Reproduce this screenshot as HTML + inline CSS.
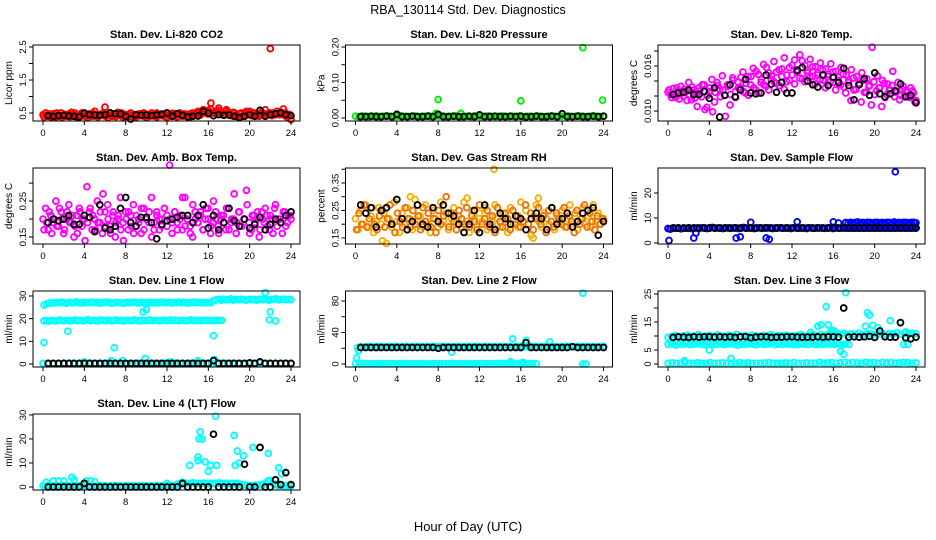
<!DOCTYPE html>
<html><head><meta charset="utf-8">
<style>
html,body{margin:0;padding:0;background:#fff;}
svg{display:block;font-family:"Liberation Sans",Arial,sans-serif;}
</style></head>
<body>
<svg id="chart" width="936" height="540" viewBox="0 0 936 540" xmlns="http://www.w3.org/2000/svg">
<text x="468" y="14" text-anchor="middle" font-size="12.5">RBA_130114  Std. Dev. Diagnostics</text>
<text x="468" y="531" text-anchor="middle" font-size="13">Hour of Day (UTC)</text>
</svg>
<script>
// ---------- data ----------
const xTicks=[0,4,8,12,16,20,24];
const panelTitles=["Stan. Dev. Li-820 CO2","Stan. Dev. Li-820 Pressure","Stan. Dev. Li-820 Temp.","Stan. Dev. Amb. Box Temp.","Stan. Dev. Gas Stream RH","Stan. Dev. Sample Flow","Stan. Dev. Line 1 Flow","Stan. Dev. Line 2 Flow","Stan. Dev. Line 3 Flow","Stan. Dev. Line 4 (LT) Flow"];
const yLabels=["Licor ppm","kPa","degrees C","degrees C","percent","ml/min","ml/min","ml/min","ml/min","ml/min"];
const yDomains=[[0.258,2.56],[-0.0085,0.2056],[0.00867,0.0188],[0.1306,0.342],[0.128,0.4045],[-0.4,30],[-1.3,32.2],[-3.8,92.7],[-1.07,26.07],[-1.25,30.4]];
const yTickVals=[[0.5,1,1.5,2,2.5],[0,0.05,0.1,0.15,0.2],[0.01,0.012,0.014,0.016,0.018],[0.15,0.2,0.25,0.3],[0.15,0.2,0.25,0.3,0.35,0.4],[0,10,20],[0,10,20,30],[0,20,40,60,80],[0,5,10,15,20,25],[0,10,20,30]];
const yTickText=[["0.5","","1.5","","2.5"],["0.00","","0.10","","0.20"],["0.010","","","0.016",""],["0.15","","0.25",""],["0.15","","0.25","","0.35",""],["0","10","20"],["0","10","20","30"],["0","","40","","80"],["0","5","","15","","25"],["0","10","20","30"]];

// CO2
const co2RedA=[0.45,0.5,0.4,0.42,0.48,0.38,0.45,0.5,0.42,0.4,0.47,0.52,0.4,0.44,0.38,0.5,0.46,0.42,0.48,0.4,0.55,0.45,0.42,0.47,0.68,0.44,0.5,0.4,0.46,0.52,0.42,0.48,0.45,0.4,0.5,0.38,0.44,0.47,0.42,0.5,0.45,0.4,0.48,0.43,0.5,0.46,0.42,0.47,0.5,0.44,0.4,0.48,0.45,0.5,0.42,0.46,0.4,0.48,0.44,0.5,0.55,0.48,0.6,0.52,0.58,0.8,0.5,0.55,0.65,0.5,0.48,0.6,0.52,0.45,0.5,0.42,0.48,0.4,0.5,0.45,0.55,0.5,0.42,0.48,0.45,0.5,0.6,0.48,2.45,0.5,0.45,0.48,0.52,0.62,0.5,0.45,0.3];
const co2RedB=[0.38,0.42,0.47,0.36,0.44,0.5,0.4,0.37,0.46,0.43,0.39,0.45,0.5,0.37,0.42,0.46,0.4,0.36,0.44,0.49,0.41,0.38,0.45,0.5,0.4,0.36,0.43,0.47,0.39,0.44,0.5,0.37,0.42,0.46,0.4,0.45,0.38,0.43,0.48,0.4,0.36,0.45,0.5,0.41,0.38,0.44,0.47,0.4,0.37,0.43,0.49,0.42,0.38,0.45,0.4,0.47,0.43,0.38,0.5,0.45,0.52,0.44,0.5,0.56,0.47,0.62,0.52,0.48,0.58,0.5,0.46,0.55,0.48,0.42,0.52,0.45,0.4,0.5,0.44,0.55,0.47,0.42,0.5,0.45,0.4,0.52,0.47,0.44,0.5,0.42,0.48,0.55,0.45,0.5,0.42,0.38,0.45];
const co2Black=[0.42,0.4,0.42,0.43,0.41,0.4,0.38,0.5,0.45,0.44,0.43,0.45,0.5,0.48,0.47,0.4,0.32,0.45,0.43,0.44,0.42,0.44,0.46,0.5,0.4,0.48,0.43,0.38,0.4,0.41,0.55,0.5,0.42,0.45,0.43,0.44,0.4,0.36,0.4,0.45,0.4,0.58,0.4,0.45,0.48,0.5,0.45,0.42];
// Pressure
const presGreen=[0.005,0.004,0.006,0.005,0.003,0.005,0.006,0.004,0.005,0.006,0.005,0.004,0.005,0.006,0.005,0.004,0.005,0.006,0.004,0.005,0.005,0.006,0.004,0.005,0.005,0.006,0.004,0.005,0.005,0.006,0.004,0.005,0.005,0.004,0.006,0.005,0.004,0.005,0.006,0.005,0.004,0.005,0.006,0.005,0.004,0.005,0.005,0.006,0.004,0.005,0.005,0.004,0.006,0.005,0.004,0.005,0.006,0.005,0.004,0.005,0.005,0.006,0.004,0.005,0.006,0.005,0.004,0.005,0.006,0.005,0.004,0.005];
const presGreenOutX=[8,16,22,23.9,7.8,10.2];
const presGreenOutY=[0.052,0.048,0.198,0.05,0.013,0.013];
const presBlack=[0.004,0.004,0.005,0.004,0.004,0.005,0.004,0.01,0.004,0.004,0.005,0.004,0.004,0.005,0.004,0.01,0.004,0.004,0.005,0.004,0.004,0.005,0.004,0.009,0.004,0.004,0.005,0.004,0.004,0.005,0.004,0.005,0.003,0.004,0.005,0.004,0.004,0.005,0.004,0.012,0.004,0.004,0.005,0.004,0.004,0.005,0.004,0.005];
// Li-820 Temp
const tempMagA=[0.0125,0.0122,0.013,0.0118,0.0127,0.0133,0.012,0.0126,0.0138,0.0115,0.0128,0.0124,0.0131,0.0119,0.0135,0.0105,0.0126,0.0142,0.0112,0.0138,0.0129,0.0147,0.0121,0.0135,0.0108,0.0144,0.0126,0.0139,0.0131,0.0152,0.0124,0.0146,0.0135,0.0157,0.0128,0.0149,0.0138,0.0162,0.0133,0.0151,0.0142,0.0166,0.0137,0.0155,0.0146,0.0171,0.0139,0.0158,0.0148,0.0168,0.0152,0.0175,0.0143,0.0161,0.0154,0.0169,0.0146,0.0159,0.0151,0.0164,0.0141,0.0156,0.0149,0.0163,0.0138,0.0153,0.0145,0.0158,0.0132,0.0148,0.0141,0.0155,0.0128,0.0146,0.0137,0.0151,0.0125,0.0143,0.0134,0.0185,0.0122,0.0147,0.0131,0.0141,0.0118,0.0136,0.0128,0.0153,0.0125,0.0138,0.0121,0.0133,0.0127,0.0119,0.0131,0.0124,0.0114];
const tempMagB=[0.0128,0.0118,0.0123,0.0131,0.0116,0.0124,0.0129,0.0114,0.0122,0.0132,0.0117,0.0106,0.0127,0.0135,0.0102,0.0121,0.0131,0.0099,0.0125,0.0134,0.0119,0.0128,0.0093,0.0133,0.0122,0.0141,0.0118,0.0131,0.0145,0.0126,0.0137,0.0121,0.0146,0.0131,0.0153,0.0124,0.0142,0.0135,0.0158,0.0128,0.0147,0.0139,0.0152,0.0134,0.0156,0.0129,0.0148,0.0141,0.0161,0.0136,0.0155,0.0144,0.0167,0.0139,0.0151,0.0145,0.0159,0.0136,0.0148,0.0142,0.0155,0.0131,0.0146,0.0139,0.0152,0.0128,0.0141,0.0135,0.0149,0.0124,0.0138,0.0114,0.0144,0.0129,0.0136,0.0112,0.0141,0.0125,0.0133,0.0108,0.0139,0.0127,0.0131,0.0106,0.0137,0.0122,0.0128,0.0134,0.0119,0.0126,0.0115,0.0129,0.0121,0.0125,0.0118,0.0127,0.0112];
const tempBlack=[0.0122,0.0124,0.0125,0.0128,0.0122,0.0122,0.0126,0.0117,0.0131,0.0092,0.0121,0.0135,0.0119,0.0128,0.0142,0.0124,0.0123,0.0124,0.0148,0.0136,0.0125,0.0138,0.0124,0.0124,0.0154,0.0158,0.014,0.0135,0.0132,0.0148,0.0134,0.0145,0.0138,0.0157,0.0134,0.0115,0.0135,0.0143,0.0121,0.0151,0.0123,0.0119,0.0123,0.0127,0.0136,0.0119,0.0121,0.0111];
// Amb box temp
const ambMagA=[0.2,0.23,0.17,0.21,0.19,0.25,0.18,0.22,0.16,0.2,0.24,0.19,0.15,0.21,0.23,0.18,0.2,0.29,0.22,0.17,0.2,0.25,0.19,0.16,0.22,0.24,0.18,0.21,0.15,0.2,0.26,0.19,0.22,0.17,0.21,0.24,0.18,0.2,0.16,0.23,0.2,0.19,0.26,0.17,0.22,0.2,0.18,0.23,0.21,0.35,0.19,0.22,0.17,0.2,0.26,0.18,0.21,0.16,0.24,0.2,0.19,0.22,0.17,0.23,0.2,0.18,0.25,0.2,0.16,0.21,0.19,0.23,0.17,0.2,0.27,0.19,0.22,0.18,0.2,0.24,0.16,0.21,0.19,0.22,0.17,0.2,0.23,0.18,0.21,0.16,0.24,0.2,0.19,0.22,0.18,0.21,0.2];
const ambMagB=[0.17,0.19,0.22,0.16,0.2,0.18,0.23,0.2,0.17,0.22,0.19,0.21,0.18,0.16,0.22,0.2,0.14,0.19,0.23,0.21,0.17,0.19,0.22,0.27,0.18,0.2,0.16,0.22,0.19,0.21,0.17,0.14,0.2,0.22,0.18,0.16,0.21,0.19,0.23,0.17,0.2,0.22,0.15,0.19,0.21,0.17,0.2,0.23,0.18,0.2,0.16,0.22,0.19,0.21,0.17,0.26,0.2,0.18,0.15,0.22,0.19,0.21,0.17,0.2,0.23,0.16,0.19,0.22,0.18,0.2,0.21,0.17,0.23,0.19,0.2,0.16,0.22,0.18,0.2,0.28,0.19,0.17,0.21,0.2,0.15,0.22,0.19,0.21,0.17,0.2,0.23,0.18,0.2,0.16,0.22,0.19,0.21];
const ambBlack=[0.19,0.2,0.195,0.2,0.21,0.185,0.185,0.21,0.205,0.165,0.24,0.175,0.17,0.18,0.23,0.26,0.19,0.18,0.205,0.205,0.19,0.145,0.185,0.195,0.2,0.205,0.21,0.21,0.19,0.21,0.24,0.175,0.21,0.17,0.19,0.23,0.195,0.18,0.2,0.175,0.185,0.205,0.17,0.185,0.2,0.19,0.21,0.22];
// Gas stream RH
const rhOrgA=[0.22,0.18,0.25,0.2,0.27,0.19,0.23,0.17,0.21,0.26,0.2,0.24,0.13,0.22,0.19,0.28,0.21,0.17,0.24,0.2,0.26,0.22,0.18,0.29,0.21,0.23,0.19,0.27,0.2,0.17,0.25,0.22,0.19,0.28,0.21,0.24,0.18,0.22,0.26,0.2,0.23,0.19,0.28,0.21,0.17,0.25,0.22,0.19,0.24,0.21,0.26,0.18,0.23,0.2,0.27,0.22,0.19,0.24,0.21,0.17,0.26,0.2,0.23,0.19,0.28,0.21,0.25,0.2,0.16,0.23,0.27,0.21,0.19,0.24,0.22,0.2,0.26,0.18,0.23,0.21,0.25,0.19,0.22,0.27,0.2,0.24,0.18,0.22,0.26,0.2,0.23,0.19,0.27,0.21,0.24,0.2,0.22];
const rhOrgB=[0.18,0.24,0.2,0.27,0.19,0.22,0.26,0.2,0.18,0.23,0.25,0.19,0.22,0.27,0.2,0.17,0.24,0.21,0.19,0.26,0.22,0.19,0.25,0.2,0.23,0.18,0.26,0.21,0.24,0.19,0.22,0.17,0.25,0.2,0.23,0.3,0.19,0.24,0.21,0.18,0.25,0.22,0.2,0.26,0.19,0.23,0.21,0.18,0.27,0.2,0.22,0.25,0.19,0.23,0.17,0.26,0.21,0.19,0.24,0.22,0.18,0.25,0.2,0.23,0.19,0.21,0.27,0.2,0.24,0.18,0.22,0.26,0.2,0.23,0.17,0.25,0.21,0.19,0.24,0.22,0.2,0.26,0.19,0.23,0.21,0.17,0.25,0.2,0.22,0.27,0.19,0.24,0.21,0.18,0.23,0.2,0.22];
const rhOrgOutX=[13.4,2.6,17.2,17.7,5.3,10.8];
const rhOrgOutY=[0.4,0.14,0.15,0.295,0.3,0.295];
const rhBlack=[0.27,0.24,0.26,0.19,0.25,0.26,0.2,0.29,0.22,0.18,0.21,0.27,0.2,0.19,0.26,0.21,0.27,0.24,0.23,0.2,0.17,0.2,0.25,0.17,0.27,0.2,0.18,0.24,0.22,0.2,0.23,0.22,0.18,0.22,0.24,0.22,0.18,0.26,0.2,0.22,0.24,0.19,0.21,0.24,0.25,0.26,0.16,0.21];
// Sample flow
const sfBlueA=[5.8,5.6,6,5.9,6,5.7,6,5.9,6.1,5.8,6,6,5.9,6.1,6,5.8,6,6.2,5.9,6,6,5.8,6.1,6,5.9,6,6.1,5.8,6,6.2,5.9,6,6,5.8,6,6.1,5.9,6,6.1,6,5.8,6,6,6.1,5.9,6,6,5.8,6.1,6,5.9,6,6,5.8,6.1,6,5.9,6.1,6,6,5.9,6,6.1,5.8,6,6,5.9,6.1,6];
const sfBlueB=[8.2,8,8.3,8.1,8.2,8.4,8,8.2,8.1,8.3,8.2,8,8.2,8.3,8.1,8.2,8,8.3,8.2,8.1,8.4,8,8.2,8.1,8.3,8.2,8,8.2,8.3,8.1];
const sfBlueOutX=[0.1,2.5,2.7,6.6,7,9.5,9.8,8,12.5,16,16.5,22,23.9,0.2];
const sfBlueOutY=[1,2,4,2,2.5,2,1.5,8.3,8.5,8.5,8,28.5,8,5.6];
const sfBlack=[6,6,6,6,6,6,6,6,6,6,6,6,6,6,6,6,6,6,6,6,6,6,6,6,6,6,6,6,6,6,6,6,6,6,6,6,6,6,6,6,6,6,6,6,6,6,6,6];
// Line 1
const l1Top=[26,26.5,26.8,27,26.9,27.1,27,27.3,27,26.8,27.2,27,27.1,27.4,27,26.9,27.2,27,27.1,27.3,27,27.2,26.9,27.1,27,27.3,27.1,26.9,27,27.2,27.1,27,26.8,27.2,27,27.1,27.3,27,26.9,27.2,27,27.1,27,27.2,26.9,27.1,27,27.3,27.1,27,27.2,26.9,27,27.1,27.3,27,27.2,27,26.9,27.1,27.3,27,27.2,27,27.1,27,27.2,27,28,28.3,28.5,28.2,28.6,28.3,28.4,28.7,28.2,28.5,28.3,28.6,28.4,28.2,28.5,28.3,28.6,28.2,28.4,28.5,28.3,28.6,28.2,28.4,28.5,28.7,28.3,28.5,28.6,28.4,28.5,28.3];
const l1Mid=[19,19.2,18.9,19.3,19.1,19,19.4,19.2,19.1,19.3,19,19.2,19.4,19.1,19.3,19,19.2,19.5,19.1,19.3,19.2,19,19.4,19.2,19.1,19.3,19,19.2,19.4,19.1,19.2,19,19.3,19.2,19.1,19.4,19.2,19,19.3,19.1,19.2,19.4,19.1,19.3,19.2,19,19.3,19.2,19.1,19.4,19.2,19.3,19.1,19.2,19.3,19.1,19.2,19.4,19.2,19.3,19.2,19.1,19.3,19.2,19.3,19.2,19.1,19.3,19.2,19.3];
const l1Zero=[0.3,0.3,0.2,0.3,0.4,0.3,0.2,0.3,0.3,0.4,0.3,0.2,0.3,0.3,0.4,0.3,0.2,0.3,0.3,0.3,0.4,0.3,0.2,0.3,0.3,0.4,0.3,0.2,0.3,0.3,0.4,0.3,0.3,0.2,0.3,0.3,0.4,0.3,0.2,0.3,0.3,0.4,0.3,0.2,0.3,0.3,0.4,0.3];
const l1OutX=[0.1,2.4,6.9,9.7,10,16.5,22,22.5,21.9,21.5,6.6,7.7,9.9,16.6,15,12.3,4];
const l1OutY=[9.5,14.5,7.2,23,24,12.5,23,19,19.5,31.5,1.5,1.5,2.5,2,1.5,1,1];
const l1Black=[0.3,0.3,0.3,0.3,0.3,0.3,0.3,0.3,0.3,0.3,0.3,0.3,0.3,0.3,0.3,0.3,0.3,0.3,0.3,0.3,0.3,0.3,0.3,0.3,0.3,0.3,0.3,0.3,0.3,0.3,0.3,0.3,1.5,0.3,0.3,0.3,0.3,0.3,0.3,0.5,0.3,1,0.3,0.3,0.3,0.3,0.3,0.3];
// Line 2
const l2Top=[21,22,21.5,22.3,22,21.8,22.4,22,21.7,22.2,22,22.5,21.8,22,22.3,21.9,22,22.4,22.1,21.8,22.2,22,22.5,21.9,22,22.3,22.1,21.8,22,22.4,22,21.9,22.2,22,22.5,21.8,22.1,22.3,22,21.9,22.2,22,22.4,22.1,21.8,22.2,22,22.3,22,21.9,22.1,22.4,22,21.8,22.2,22,22.3,22.1,21.9,22,22.2,22.4,22,21.8,22.2,22.1,22.3,22,21.9,22.2,22,22.3];
const l2Zero=[0.5,0.3,0.6,0.4,0.5,0.3,0.6,0.5,0.4,0.6,0.3,0.5,0.4,0.6,0.5,0.3,0.5,0.4,0.6,0.5,0.3,0.5,0.6,0.4,0.5,0.3,0.6,0.5,0.4,0.5,0.6,0.3,0.5,0.4,0.6,0.5,0.4,0.5,0.3,0.6,0.5,0.4,0.5,0.6,0.3,0.5,0.4,0.6,0.5,0.3];
const l2OutX=[0.1,0.3,22,22,22.3,15.2,16.5,18.8,9.3,15,16.2];
const l2OutY=[8,17,90,0,0,32,30,28,15,3,2];
const l2Black=[21,21,21,21,21,21,21,21,21,21,21,21,21,21,21,20,21,21,21,21,21,21,21,21,21,21,21,21,21,21,21,21,27,21,21,21,21,21,21,21,21,22,21,21,21,21,21,21];
// Line 3
const l3Top=[9.5,9.8,10.2,9.7,10,10.3,9.8,10,10.5,9.7,10,10.2,9.9,10.4,10,9.8,10.2,10,10.6,9.9,10.1,9.8,10.3,10,9.9,10.2,10,10.5,9.8,10.1,10,10.3,9.9,10,10.2,10.5,9.9,10.1,10.4,10,10.6,10.2,10.5,10.8,10.4,10.7,11,10.5,10.8,10.6,11,10.4,10.7,10.9,10.5,10.8,11,10.6,10.9,10.7,11.2,10.6,10.9,10.7,11,10.8];
const l3Mid=[7,7.2,6.8,7.1,7,7.3,6.9,7.1,7.2,7,6.9,7.2,7.1,7,7.3,6.9,7.1,7.2,7,6.8,7.1,7,7.2,7.1,6.9,7.2,7,7.1,7.3,6.9,7.1,7,7.2,7.1,7,6.9,7.2,7.1,7,7.2,6.9,7.1,7,7.2,7.1,7,7.2,6.9,7.1,7];
const l3Zero=[0.3,0.4,0.2,0.3,0.5,0.3,0.2,0.4,0.3,0.3,0.5,0.2,0.3,0.4,0.3,0.2,0.3,0.5,0.3,0.4,0.2,0.3,0.3,0.4,0.5,0.3,0.2,0.3,0.4,0.3,0.5,0.2,0.3,0.4,0.3,0.3,0.6,0.3,0.4,0.5,0.3,0.4,0.6,0.3,0.5,0.4,0.3,0.6,0.4,0.5,0.3,0.6,0.4,0.5,0.3,0.4,0.6,0.5,0.3,0.4];
const l3OutX=[14.5,15.3,15.5,15.8,16.2,16.7,17,17.2,19.3,19.5,19.1,19.8,20.3,21.5,22.5,22.8,23.2,4,6.1,1.6,14.8,23,13.8,16];
const l3OutY=[13.5,20.5,14,12,11.5,4.5,3.5,25.5,18.3,17.5,13.5,13.8,13,15.5,14.8,7,7,5,2,1.2,14,11.5,11.3,12];
const l3Black=[9.5,9.7,9.6,9.5,9.7,9.6,9.7,9.7,9.6,9.7,9.6,9.7,9.5,9.7,9.8,9.4,9.6,9.7,9.7,9.5,9.6,9.6,9.7,9.7,9.6,9.6,9.6,9.6,9.7,9.6,9.7,9.7,9.6,20,9.6,9.7,9.6,9.7,9.9,9.5,11.8,9.7,9.6,9.6,14.8,9.4,9,9.6];
// Line 4
const l4Zero=[0.5,0.3,0.8,0.5,0.4,0.6,0.3,0.5,0.7,0.4,0.5,0.3,0.6,0.5,0.4,0.5,0.3,0.6,0.4,0.5,0.3,0.5,0.6,0.4,0.5,0.3,0.5,0.4,0.6,0.5,0.4,0.3,0.5,0.6,0.4,0.5,0.3,0.5,0.4,0.6,0.5,0.4,0.5,0.3,0.6,0.5,0.4,0.5,0.6,0.5,0.4,0.5,1.2,1.5,1.3,1.6,1.4,1.5,1.7,1.3,1.5,1.4,1.6,1.5,1.3,1.6,1.4,1.5,1.7,1.4,1.5,1.6,1.3,1.5,1.4,1.6,1.2,1,0.8,0.6,0.7,0.5,0.8,0.6,0.9,0.7,1.5,2.5,2.8,1.5,1,0.6,0.8,0.5,0.6,0.4,0.5];
const l4OutX=[0.3,1,1.5,2,2.8,3,4.2,4.6,5,14.2,15,15,15.2,15.1,15.4,15.7,16,16.2,16.7,16.8,18.5,18.6,18.8,19,19.4,20.3,21.8,22.8,23.1,12,13.5];
const l4OutY=[2,2.5,2.5,2.5,4,3,2.5,2.5,2.2,9,12.5,11,23,20,20,10.5,6.5,9,29.5,9,21.5,9,15,10,13,16.5,14,8,5.5,1.5,2];
const l4Black=[0,0,0,0,0,0,0,1.5,0,0,0,0,0,0,0,0,0,0,0,0,0,0,0,0,0,0,1.5,0,0,0,0,0,22,0,0,0,0,0,9.5,0,0,16.5,0,0,3,1,6,1];

const seriesByPanel=[
 [{c:"#ff0000",x0:0,x1:24,v:co2RedA},{c:"#ff0000",x0:0.1,x1:23.9,v:co2RedB},{c:"#000",x0:0.5,x1:24,v:co2Black}],
 [{c:"#00ee00",x0:0,x1:24,v:presGreen},{c:"#00ee00",xs:presGreenOutX,v:presGreenOutY},{c:"#000",x0:0.5,x1:24,v:presBlack}],
 [{c:"#ff00ff",x0:0,x1:24,v:tempMagA},{c:"#ff00ff",x0:0.1,x1:23.9,v:tempMagB},{c:"#000",x0:0.5,x1:24,v:tempBlack}],
 [{c:"#ff00ff",x0:0,x1:24,v:ambMagA},{c:"#ff00ff",x0:0.1,x1:23.9,v:ambMagB},{c:"#000",x0:0.5,x1:24,v:ambBlack}],
 [{c:"#f5b000",x0:0,x1:24,v:rhOrgA},{c:"#f07000",x0:0.1,x1:23.9,v:rhOrgB},{c:"#f5b000",xs:rhOrgOutX,v:rhOrgOutY},{c:"#000",x0:0.5,x1:24,v:rhBlack}],
 [{c:"#0000ff",x0:0,x1:17.2,v:sfBlueA},{c:"#0000ff",x0:17.2,x1:24,v:sfBlueB},{c:"#0000ff",x0:17.2,x1:24,v:sfBlack},{c:"#0000ff",xs:sfBlueOutX,v:sfBlueOutY},{c:"#000",x0:0.5,x1:24,v:sfBlack}],
 [{c:"#00ffff",x0:0.1,x1:24,v:l1Top},{c:"#00ffff",x0:0.1,x1:17.3,v:l1Mid},{c:"#00ffff",x0:0,x1:24,v:l1Zero},{c:"#00ffff",xs:l1OutX,v:l1OutY},{c:"#000",x0:0.5,x1:24,v:l1Black}],
 [{c:"#00ffff",x0:0.2,x1:24,v:l2Top},{c:"#00ffff",x0:0,x1:17.5,v:l2Zero},{c:"#00ffff",xs:l2OutX,v:l2OutY},{c:"#000",x0:0.5,x1:24,v:l2Black}],
 [{c:"#00ffff",x0:0,x1:24,v:l3Top},{c:"#00ffff",x0:0,x1:17.5,v:l3Mid},{c:"#00ffff",x0:0,x1:24,v:l3Zero},{c:"#00ffff",xs:l3OutX,v:l3OutY},{c:"#000",x0:0.5,x1:24,v:l3Black}],
 [{c:"#00ffff",x0:0,x1:24,v:l4Zero},{c:"#00ffff",xs:l4OutX,v:l4OutY},{c:"#000",x0:0.5,x1:24,v:l4Black}]
];

// ---------- drawing ----------
const NS="http://www.w3.org/2000/svg";
const svg=document.getElementById("chart");
function mk(tag,attrs,parent){const e=document.createElementNS(NS,tag);for(const k in attrs)e.setAttribute(k,attrs[k]);(parent||svg).appendChild(e);return e;}
const colX0=[43,355.5,668], rowTop=[45,168,291,414], BOXW=267, BOXH=76, PXH=248/24;

for(let p=0;p<10;p++){
  const col=p%3,row=Math.floor(p/3);
  const x0=colX0[col], top=rowTop[row], bot=top+BOXH, left=x0-10, right=left+BOXW;
  const [lo,hi]=yDomains[p];
  const xs=h=>x0+h*PXH;
  const ys=v=>bot-(v-lo)/(hi-lo)*BOXH;
  const g=mk("g",{});
  
  
  const t=mk("text",{x:(left+right)/2,y:top-7,"text-anchor":"middle","font-size":"11","font-weight":"bold"},g);
  t.textContent=panelTitles[p];
  
  
  const pts=mk("g",{fill:"none","stroke-width":"1.9"},g);
  
  
  for(const s of seriesByPanel[p]){
    const n=s.v.length;
    for(let i=0;i<n;i++){
      const h=s.xs?s.xs[i]:(n>1?s.x0+(s.x1-s.x0)*i/(n-1):s.x0);
      const c=mk("circle",{cx:xs(h).toFixed(1),cy:ys(s.v[i]).toFixed(1),r:"2.9",stroke:s.c},pts);
      
      
    }
  }
  const box=mk("rect",{x:left,y:top,width:BOXW,height:BOXH,fill:"none",stroke:"#000","stroke-width":"1"},g);
  
  
  const xa=mk("g",{},g);
  
  
  mk("line",{x1:xs(xTicks[0]),x2:xs(xTicks[xTicks.length-1]),y1:bot,y2:bot,stroke:"#000"},xa);
  for(const tv of xTicks){
    mk("line",{x1:xs(tv),x2:xs(tv),y1:bot,y2:bot+4,stroke:"#000"},xa);
    const tl=mk("text",{x:xs(tv),y:bot+15,"text-anchor":"middle","font-size":"9.5"},xa);
    tl.textContent=tv;
    
    
  }
  const ya=mk("g",{},g);
  
  
  const tv=yTickVals[p];
  mk("line",{x1:left,x2:left,y1:ys(tv[0]),y2:ys(tv[tv.length-1]),stroke:"#000"},ya);
  tv.forEach((v,i)=>{
    const yy=ys(v);
    mk("line",{x1:left-4,x2:left,y1:yy,y2:yy,stroke:"#000"},ya);
    if(yTickText[p][i]){
      const tl=mk("text",{x:left-7,y:yy,"text-anchor":"middle","font-size":"9.5",transform:`rotate(-90 ${left-7} ${yy})`},ya);
      tl.textContent=yTickText[p][i];
      
      
    }
  });
  const yl=mk("text",{x:left-21,y:(top+bot)/2,"text-anchor":"middle","font-size":"10",transform:`rotate(-90 ${left-21} ${(top+bot)/2})`},g);
  yl.textContent=yLabels[p];
  
  
}
</script>
</body></html>
